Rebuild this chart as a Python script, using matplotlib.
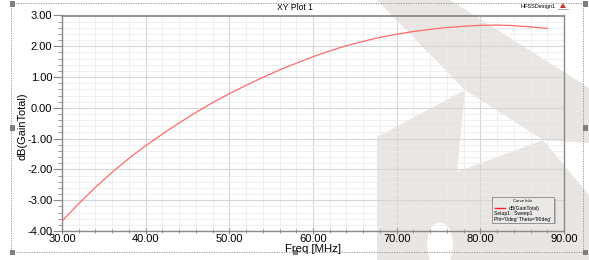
import matplotlib
matplotlib.use("Agg")
import matplotlib.pyplot as plt
from matplotlib.patches import Polygon, Rectangle, Ellipse
from matplotlib.lines import Line2D
from matplotlib.ticker import MultipleLocator, FormatStrFormatter

plt.rcParams['font.family'] = ['Liberation Sans', 'DejaVu Sans']

# frequency sweep (MHz) and gain (dB)
freq = [30, 32, 34, 36, 38, 40, 42, 44, 46, 48, 50, 52, 54, 56, 58,
        60, 62, 64, 66, 68, 70, 72, 74, 76, 78, 80, 82, 84, 86, 88]
gain = [-3.68, -3.11, -2.58, -2.09, -1.64, -1.23, -0.85, -0.49, -0.15, 0.17,
        0.46, 0.73, 0.99, 1.23, 1.45, 1.66, 1.85, 2.02, 2.16, 2.29,
        2.39, 2.48, 2.55, 2.61, 2.65, 2.68, 2.69, 2.67, 2.63, 2.58]

W, H = 589, 260
fig = plt.figure(figsize=(W / 100, H / 100), dpi=100)


def fx(px):
    return px / W


def fy(py):
    return 1 - py / H


def fpts(pts):
    return [(fx(x), fy(y)) for x, y in pts]


# light watermark in the background (logo shape)
wm = '#e8e5e2'
band = [(377, 0), (450, 0), (589, 88), (589, 143), (543, 140), (465, 90)]
lower = [(377, 137), (465, 90), (457, 172), (543, 140), (589, 195),
         (589, 260), (377, 260)]
for pts in (band, lower):
    fig.add_artist(Polygon(fpts(pts), closed=True, transform=fig.transFigure,
                           facecolor=wm, edgecolor='none', zorder=-2))
fig.add_artist(Ellipse((fx(440), fy(245)), 26 / W, 46 / H, transform=fig.transFigure,
                       facecolor='white', edgecolor='none', zorder=-1))

ax = fig.add_axes([fx(62), fy(231), fx(564) - fx(62), fy(15.5) - fy(231)])
ax.set_facecolor('none')

ax.plot(freq, gain, color='#ff6b6b', lw=0.9, zorder=3)

ax.set_xlim(30, 90)
ax.set_ylim(-4, 3)
ax.xaxis.set_major_locator(MultipleLocator(10))
ax.xaxis.set_minor_locator(MultipleLocator(2))
ax.yaxis.set_major_locator(MultipleLocator(1))
ax.yaxis.set_minor_locator(MultipleLocator(0.2))
ax.xaxis.set_major_formatter(FormatStrFormatter('%.2f'))
ax.yaxis.set_major_formatter(FormatStrFormatter('%.2f'))

ax.grid(which='major', color='#d6d6d6', lw=0.8)
ax.grid(which='minor', color='#ececec', lw=0.6)
ax.set_axisbelow(True)

for s in ax.spines.values():
    s.set_color('#8a8a8a')
    s.set_linewidth(1.0)
ax.spines['top'].set_linewidth(1.3)

ax.tick_params(axis='y', which='major', direction='out', length=6.5, width=0.8,
               color='#8a8a8a', labelsize=8, pad=0.5)
ax.tick_params(axis='y', which='minor', direction='out', length=3, width=0.6,
               color='#8a8a8a')
ax.tick_params(axis='x', which='major', direction='inout', length=4, width=0.8,
               color='#8a8a8a', labelsize=8, pad=0.5)
ax.tick_params(axis='x', which='minor', direction='inout', length=3, width=0.6,
               color='#8a8a8a')

fig.text(fx(313), fy(249), 'Freq [MHz]', ha='center', va='center', fontsize=8.2)
fig.text(fx(22), fy(126), 'dB(GainTotal)', ha='center', va='center',
         rotation=90, fontsize=7.9)
fig.text(fx(295), fy(7), 'XY Plot 1', ha='center', va='center', fontsize=6.2)
fig.text(fx(538), fy(6.5), 'HFSSDesign1', ha='center', va='center', fontsize=4)
fig.add_artist(Polygon(fpts([(560, 8), (566, 8), (563, 3)]), closed=True,
                       transform=fig.transFigure, facecolor='#d03030',
                       edgecolor='none'))
fig.add_artist(Line2D([fx(558), fx(568)], [fy(9), fy(9)], color='#999999', lw=0.6,
                      transform=fig.transFigure))

# dotted selection frame with handles
fig.add_artist(Rectangle((fx(11), fy(252)), fx(583) - fx(11), fy(3) - fy(252),
                         transform=fig.transFigure, fill=False, edgecolor='#8a8a8a',
                         lw=0.6, ls=(0, (1.5, 1.5))))
for hx, hy in [(12, 4), (12, 128), (12, 252), (295, 252),
               (585, 4), (585, 128), (585, 252)]:
    fig.add_artist(Rectangle((fx(hx - 2.5), fy(hy + 2.5)), 5 / W, 5 / H,
                             transform=fig.transFigure, facecolor='#7f7f7f',
                             edgecolor='none'))

# curve info box
fig.add_artist(Rectangle((fx(493.5), fy(224)), 62 / W, 25.5 / H,
                         transform=fig.transFigure, facecolor='#b8b8b8',
                         edgecolor='none', zorder=4))
fig.add_artist(Rectangle((fx(492.3), fy(222.7)), 62 / W, 25.5 / H,
                         transform=fig.transFigure, facecolor='#ebe9e7',
                         edgecolor='#8a8a8a', lw=0.6, zorder=5))
fig.text(fx(522), fy(200.7), 'Curve Info', ha='center', va='center',
         fontsize=3, zorder=6)
fig.add_artist(Line2D([fx(495), fx(505)], [fy(208.3), fy(208.3)], color='#ff2020',
                      lw=1.0, transform=fig.transFigure, zorder=6))
fig.text(fx(509), fy(208.3), 'dB(GainTotal)', ha='left', va='center',
         fontsize=3.6, zorder=6)
fig.text(fx(494), fy(213.5), 'Setup1 : Sweep1', ha='left', va='center',
         fontsize=3.6, zorder=6)
fig.text(fx(494), fy(219.2), "Phi='0deg' Theta='90deg'", ha='left', va='center',
         fontsize=3.6, zorder=6)

fig.savefig('out.png', dpi=100, facecolor='white')
